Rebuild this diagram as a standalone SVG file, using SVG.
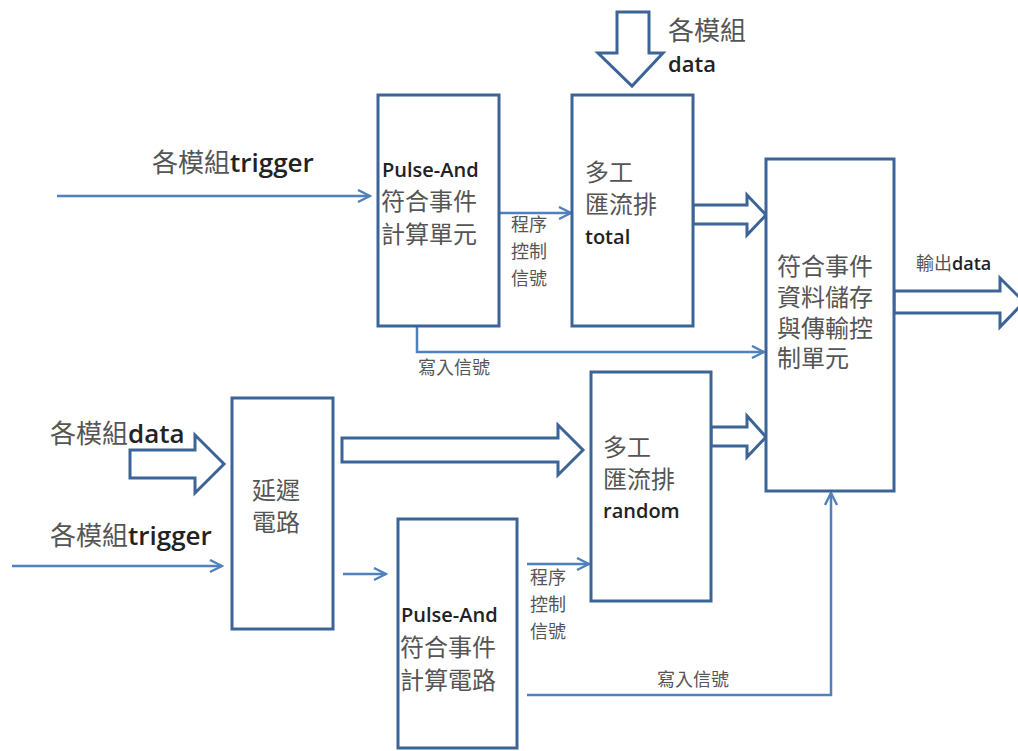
<svg xmlns="http://www.w3.org/2000/svg" width="1018" height="751" viewBox="0 0 1018 751">
<defs>
<marker id="ah" viewBox="0 0 10 10" refX="9" refY="5" markerWidth="6" markerHeight="6" orient="auto" markerUnits="strokeWidth">
<path d="M1,1 L9,5 L1,9" fill="none" stroke="#4f81bd" stroke-width="1.6"/>
</marker>
</defs>
<style>
.box{fill:#fff;stroke:#3c6496;stroke-width:3}
.hollow{fill:#fff;stroke:#3c6496;stroke-width:3;stroke-linejoin:miter}
.thin{fill:none;stroke:#4f81bd;stroke-width:2.5;marker-end:url(#ah)}
text{font-family:"Open Sans","Noto Sans","Noto Sans CJK TC",sans-serif}
.cjk{fill:#555;font-size:24px}
.lat{fill:#222;font-size:20px;font-weight:600}
.sm{fill:#555;font-size:18px}
.lbl{fill:#555;font-size:26px}
.b{fill:#222;font-weight:600}
</style>
<rect width="1018" height="751" fill="#fff"/>
<g id="connectors">
<path class="hollow" d="M617,12 L649,12 L649,53 L663,53 L632,86 L598,53 L617,53 Z"/>
<path class="hollow" d="M693,205 L747,205 L747,195 L766,215 L747,235 L747,224 L693,224 Z"/>
<path class="hollow" d="M894,291 L1000,291 L1000,278 L1024,302 L1000,327 L1000,313 L894,313 Z"/>
<path class="hollow" d="M711,427 L747,427 L747,416 L766,437 L747,457 L747,446 L711,446 Z"/>
<path class="hollow" d="M342,438 L558,438 L558,425 L583,450 L558,475 L558,462 L342,462 Z"/>
<path class="hollow" d="M130,450 L195,450 L195,435 L224,464 L195,493 L195,478 L130,478 Z"/>
<path class="thin" d="M57,196 L370,196"/>
<path class="thin" d="M499,213 L571,213"/>
<path class="thin" d="M417,326 L417,352 L764,352"/>
<path class="thin" d="M12,566 L222,566"/>
<path class="thin" d="M343,574 L386,574"/>
<path class="thin" d="M527,564 L589,564"/>
<path class="thin" d="M527,695 L831,695 L831,493"/>
</g>
<g id="pulse_top">
<rect class="box" x="378" y="95" width="121" height="231"/>
<text class="lat" x="382" y="177">Pulse-And</text>
<text class="cjk" x="381" y="210">符合事件</text>
<text class="cjk" x="381" y="243">計算單元</text>
</g>
<g id="mux_total">
<rect class="box" x="572" y="95" width="121" height="231"/>
<text class="cjk" x="585" y="181">多工</text>
<text class="cjk" x="585" y="213">匯流排</text>
<text class="lat" x="585" y="244">total</text>
</g>
<g id="store">
<rect class="box" x="766" y="159" width="128" height="332"/>
<text class="cjk" x="777" y="275">符合事件</text>
<text class="cjk" x="777" y="306">資料儲存</text>
<text class="cjk" x="777" y="337">與傳輸控</text>
<text class="cjk" x="777" y="367">制單元</text>
</g>
<g id="delay">
<rect class="box" x="232" y="398" width="101" height="231"/>
<text class="cjk" x="252" y="499">延遲</text>
<text class="cjk" x="252" y="531">電路</text>
</g>
<g id="mux_random">
<rect class="box" x="591" y="372" width="120" height="229"/>
<text class="cjk" x="603" y="456">多工</text>
<text class="cjk" x="603" y="488">匯流排</text>
<text class="lat" x="603" y="518">random</text>
</g>
<g id="pulse_bottom">
<rect class="box" x="398" y="519" width="119" height="229"/>
<text class="lat" x="401" y="622">Pulse-And</text>
<text class="cjk" x="400" y="656">符合事件</text>
<text class="cjk" x="400" y="689">計算電路</text>
</g>
<g id="labels">
<text class="lbl" x="668" y="40">各模組</text>
<text class="lat" x="668" y="72" style="font-size:22px">data</text>
<text class="lbl" x="152" y="172">各模組<tspan class="b">trigger</tspan></text>
<text class="sm" x="511" y="231">程序</text>
<text class="sm" x="511" y="258">控制</text>
<text class="sm" x="511" y="285">信號</text>
<text class="sm" x="916" y="270">輸出<tspan class="b">data</tspan></text>
<text class="sm" x="418" y="374">寫入信號</text>
<text class="lbl" x="50" y="443">各模組<tspan class="b">data</tspan></text>
<text class="lbl" x="50" y="545">各模組<tspan class="b">trigger</tspan></text>
<text class="sm" x="530" y="584">程序</text>
<text class="sm" x="530" y="611">控制</text>
<text class="sm" x="530" y="638">信號</text>
<text class="sm" x="657" y="686">寫入信號</text>
</g>
</svg>
